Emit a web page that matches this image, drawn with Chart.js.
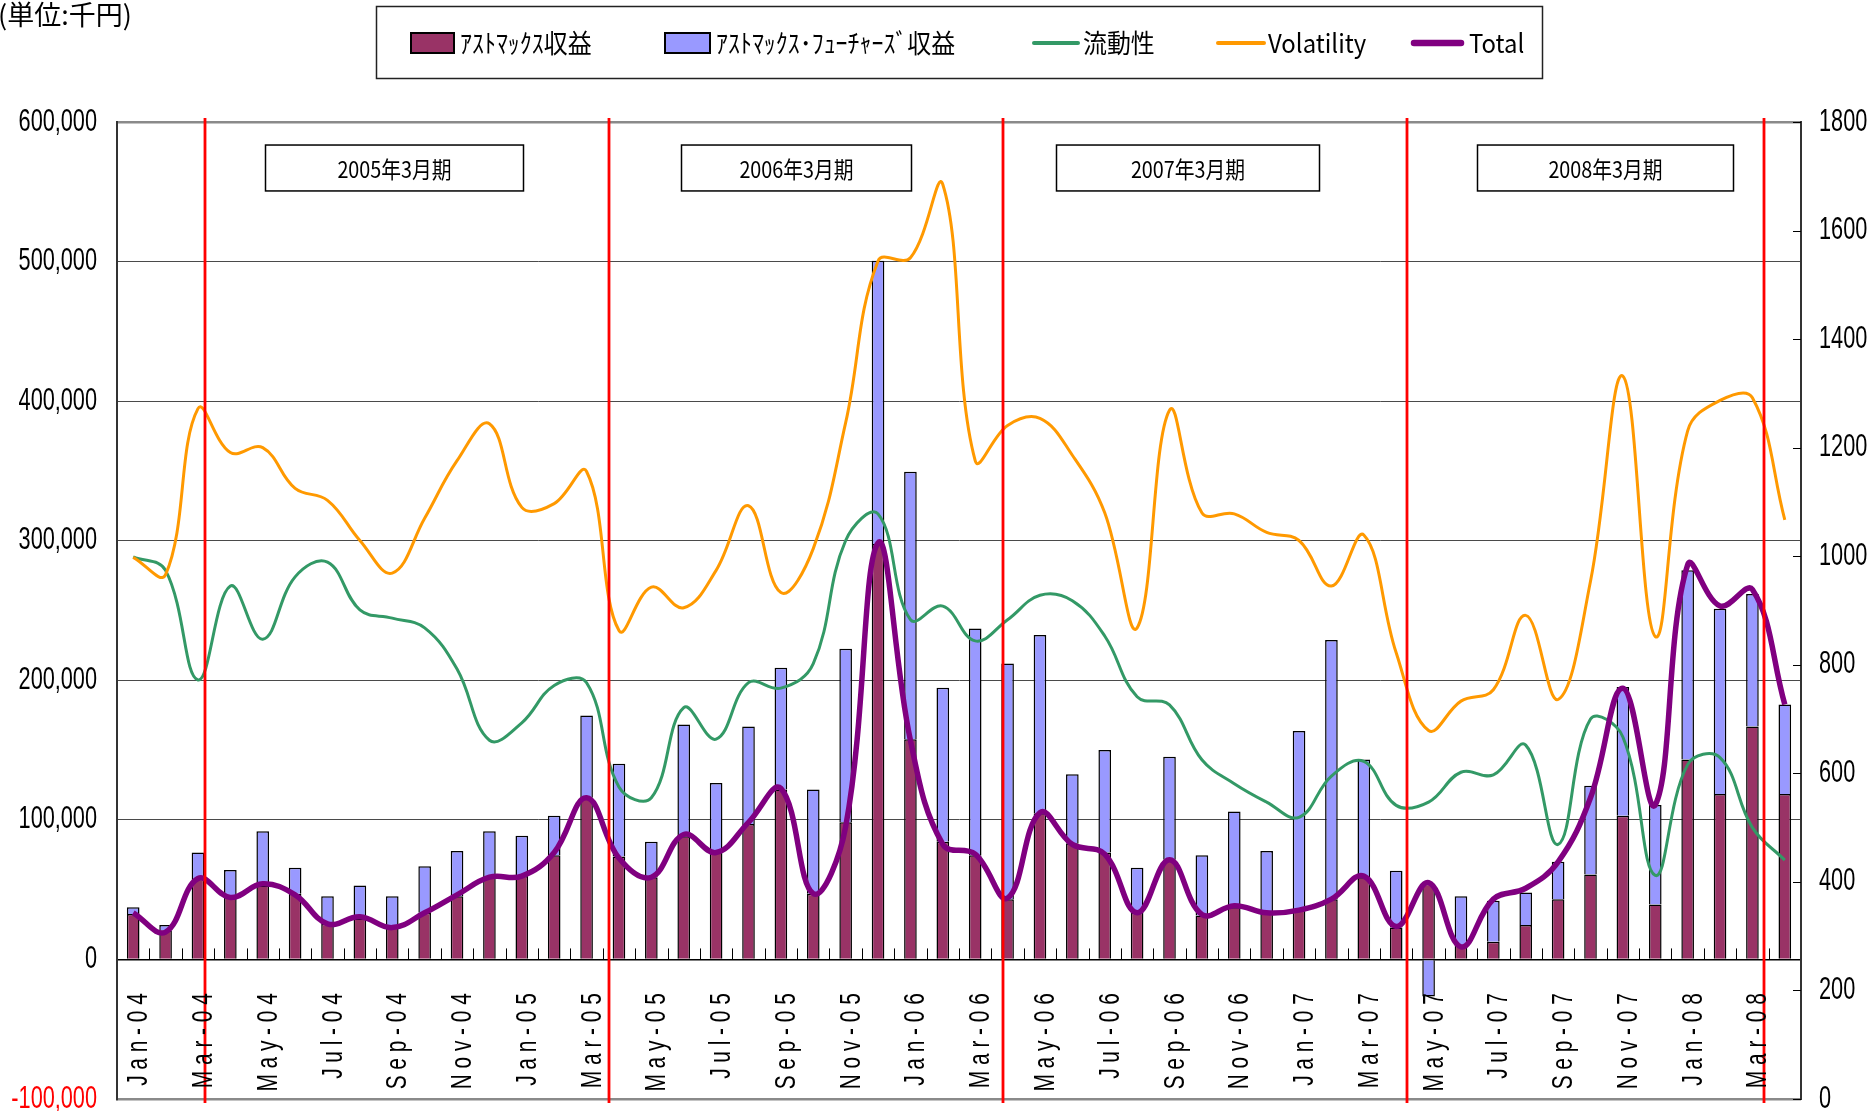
<!DOCTYPE html>
<html>
<head>
<meta charset="utf-8">
<script src="https://cdn.jsdelivr.net/npm/chart.js@4.4.1/dist/chart.umd.min.js"></script>
<style>
  html, body { margin: 0; padding: 0; background: #fff; overflow: hidden; }
</style>
</head>
<body>
<canvas id="revenue-chart" width="1873" height="1111"></canvas>
<script>
// monthly categories
const months = [
  'Jan-04', 'Feb-04', 'Mar-04', 'Apr-04', 'May-04', 'Jun-04', 'Jul-04', 'Aug-04', 'Sep-04', 'Oct-04', 'Nov-04', 'Dec-04',
  'Jan-05', 'Feb-05', 'Mar-05', 'Apr-05', 'May-05', 'Jun-05', 'Jul-05', 'Aug-05', 'Sep-05', 'Oct-05', 'Nov-05', 'Dec-05',
  'Jan-06', 'Feb-06', 'Mar-06', 'Apr-06', 'May-06', 'Jun-06', 'Jul-06', 'Aug-06', 'Sep-06', 'Oct-06', 'Nov-06', 'Dec-06',
  'Jan-07', 'Feb-07', 'Mar-07', 'Apr-07', 'May-07', 'Jun-07', 'Jul-07', 'Aug-07', 'Sep-07', 'Oct-07', 'Nov-07', 'Dec-07',
  'Jan-08', 'Feb-08', 'Mar-08', 'Apr-08'
];

// 単位: 千円 (left axis)
const astmaxRevenue = [
  32600, 20800, 57700, 44400, 53000, 47100, 25500, 29400, 22800, 33400, 45200, 58900,
  59700, 74600, 115800, 73800, 58900, 88300, 76600, 97000, 121700, 47100, 98200, 297600,
  157800, 84400, 74600, 43200, 104800, 83200, 76600, 33400, 71500, 31400, 37300, 33400,
  36100, 43200, 58900, 22800, 54200, 9800, 12600, 24700, 43200, 60900, 102900, 39300,
  143300, 118600, 166900, 118600
];
const futuresRevenue = [
  4700, 3900, 18900, 19600, 38900, 18500, 19700, 23600, 22400, 33300, 32500, 33000,
  29000, 28300, 58900, 66400, 25500, 80100, 49800, 69900, 87200, 74600, 124400, 203000,
  191600, 110300, 162500, 168800, 127600, 49500, 73400, 32200, 73800, 43200, 68700, 44300,
  127600, 185700, 84400, 40800, -26500, 35400, 29400, 23200, 26700, 63600, 92200, 71400,
  135500, 132700, 95000, 64000
];
const totalLine = [
  33400, 19600, 58000, 44400, 54200, 46300, 25500, 30600, 22800, 33400, 46300, 58900,
  59700, 76600, 115800, 72600, 58900, 89500, 76600, 98200, 122500, 47100, 95000, 298400,
  157000, 82400, 75400, 44000, 105200, 82400, 75400, 33400, 71500, 32200, 38500, 33400,
  35300, 43200, 59700, 23600, 55000, 9000, 43200, 51000, 69900, 115800, 194300, 110700,
  282700, 253200, 265000, 182600
];

// right axis
const liquidity = [
  999, 974, 772, 945, 847, 962, 989, 901, 886, 868, 792, 661,
  693, 762, 767, 575, 555, 721, 663, 767, 757, 802, 1029, 1078,
  883, 908, 844, 883, 928, 918, 853, 741, 726, 625, 581, 547,
  519, 595, 622, 541, 547, 602, 597, 652, 469, 700, 667, 412,
  616, 629, 500, 440
];
const volatility = [
  998, 966, 1272, 1191, 1200, 1125, 1103, 1029, 969, 1070, 1176, 1244,
  1090, 1097, 1156, 863, 943, 905, 974, 1093, 933, 1014, 1246, 1544,
  1550, 1685, 1176, 1241, 1254, 1186, 1080, 868, 1269, 1080, 1078, 1044,
  1029, 945, 1039, 822, 679, 733, 754, 891, 736, 954, 1332, 852,
  1231, 1287, 1292, 1067
];

// fiscal year marks (month index) and period captions
const fiscalBreaks = [2.23, 14.69, 26.85, 39.34, 50.36];
const periodLabels = ['2005年3月期', '2006年3月期', '2007年3月期', '2008年3月期'];
const periodStarts = [4.07, 16.92, 28.5, 41.51];
const periodEnds = [12.04, 24.02, 36.62, 49.41];

const NUM_FONT = '"Liberation Sans", Arial, sans-serif';
const JP_FONT = '"Noto Sans CJK JP", sans-serif';

function narrowText(ctx, text, x, y, align, sx) {
  ctx.save();
  ctx.translate(x, y);
  ctx.scale(sx, 1);
  ctx.textAlign = align;
  ctx.fillText(text, 0, 0);
  ctx.restore();
}

const decorations = {
  id: 'decorations',
  afterDatasetsDraw(chart) {
    const { ctx, chartArea: area, scales: { x, y } } = chart;
    ctx.save();

    // period caption boxes
    ctx.font = '23px ' + JP_FONT;
    ctx.textBaseline = 'middle';
    const top = y.getPixelForValue(583500);
    const bottom = y.getPixelForValue(550600);
    periodLabels.forEach((label, i) => {
      const l = Math.round(x.getPixelForValue(periodStarts[i])) + 0.5;
      const r = Math.round(x.getPixelForValue(periodEnds[i])) + 0.5;
      ctx.fillStyle = '#fff';
      ctx.fillRect(l, top, r - l, bottom - top);
      ctx.strokeStyle = '#000';
      ctx.lineWidth = 1.5;
      ctx.strokeRect(l, top, r - l, bottom - top);
      ctx.fillStyle = '#000';
      narrowText(ctx, label, (l + r) / 2, (top + bottom) / 2 + 1, 'center', 0.86);
    });

    // red fiscal year lines
    ctx.strokeStyle = '#ff0000';
    ctx.lineWidth = 2.8;
    fiscalBreaks.forEach((v) => {
      const px = Math.round(x.getPixelForValue(v));
      ctx.beginPath();
      ctx.moveTo(px, area.top - 4);
      ctx.lineTo(px, area.bottom + 4);
      ctx.stroke();
    });
    ctx.restore();
  },
  afterDraw(chart) {
    const { ctx, chartArea: area, scales: { x, y, y2 } } = chart;
    const zeroY = y.getPixelForValue(0);
    ctx.save();

    // small tick marks on the zero line
    ctx.strokeStyle = '#000';
    ctx.lineWidth = 1;
    for (let k = 1; k < months.length; k++) {
      const px = Math.round(x.getPixelForValue(k - 0.5)) + 0.5;
      ctx.beginPath();
      ctx.moveTo(px, zeroY);
      ctx.lineTo(px, zeroY - 11);
      ctx.stroke();
    }
    // right axis tick marks (inside)
    y2.ticks.forEach((t) => {
      const py = Math.round(y2.getPixelForValue(t.value)) + 0.5;
      ctx.beginPath();
      ctx.moveTo(area.right - 8, py);
      ctx.lineTo(area.right, py);
      ctx.stroke();
    });

    // axis labels
    ctx.font = '31px ' + NUM_FONT;
    ctx.textBaseline = 'middle';
    y.ticks.forEach((t) => {
      ctx.fillStyle = t.value < 0 ? '#ff0000' : '#000';
      narrowText(ctx, t.value.toLocaleString('en-US'), 97, y.getPixelForValue(t.value), 'right', 0.7);
    });
    ctx.fillStyle = '#000';
    y2.ticks.forEach((t) => {
      narrowText(ctx, String(t.value), 1819, y2.getPixelForValue(t.value), 'left', 0.7);
    });

    ctx.font = '29px ' + NUM_FONT;
    months.forEach((m, i) => {
      if (i % 2) return;
      ctx.save();
      ctx.translate(x.getPixelForValue(i) + 6, zeroY + 28);
      ctx.rotate(-Math.PI / 2);
      ctx.scale(0.72, 1);
      ctx.textAlign = 'right';
      ctx.textBaseline = 'middle';
      let text = m;
      if ('letterSpacing' in ctx) ctx.letterSpacing = '8px';
      else text = m.split('').join('\u2009');
      ctx.fillText(text, 0, 0);
      ctx.restore();
    });

    // unit caption
    ctx.font = '27px ' + JP_FONT;
    ctx.textAlign = 'left';
    ctx.textBaseline = 'middle';
    ctx.fillText('(単位:千円)', -2, 15);

    // legend
    const ds = chart.data.datasets;
    ctx.strokeStyle = '#222';
    ctx.lineWidth = 1.5;
    ctx.strokeRect(376.5, 6.5, 1166, 72);
    ctx.font = '26px ' + JP_FONT;
    const midY = 43;
    const swatch = (d, x0, x1) => {
      if (d.type === 'bar') {
        ctx.fillStyle = d.backgroundColor;
        ctx.fillRect(x0, midY - 10, x1 - x0, 20);
        ctx.strokeStyle = '#000';
        ctx.lineWidth = 2;
        ctx.strokeRect(x0, midY - 10, x1 - x0, 20);
      } else {
        ctx.strokeStyle = d.borderColor;
        ctx.lineWidth = d.borderWidth + 1;
        ctx.lineCap = 'round';
        ctx.beginPath();
        ctx.moveTo(x0, midY);
        ctx.lineTo(x1, midY);
        ctx.stroke();
      }
    };
    const items = [[0, 411, 454, 460], [1, 665, 710, 716], [2, 1034, 1078, 1083], [3, 1218, 1264, 1268], [4, 1414, 1461, 1469]];
    items.forEach(([idx, x0, x1, tx]) => {
      const d = ds[idx];
      swatch(d, x0, x1);
      ctx.fillStyle = '#000';
      narrowText(ctx, d.label, tx, midY, 'left', 0.92);
    });
    ctx.restore();
  }
};

new Chart(document.getElementById('revenue-chart'), {
  data: {
    labels: months,
    datasets: [
      {
        type: 'bar', label: 'ｱｽﾄﾏｯｸｽ収益', data: astmaxRevenue, stack: 'revenue',
        backgroundColor: '#993366', borderColor: '#000', borderWidth: 1.5,
        barPercentage: 0.39, categoryPercentage: 1, yAxisID: 'y', order: 5
      },
      {
        type: 'bar', label: 'ｱｽﾄﾏｯｸｽ･ﾌｭｰﾁｬｰｽﾞ収益', data: futuresRevenue, stack: 'revenue',
        backgroundColor: '#9999ff', borderColor: '#000', borderWidth: 1.5,
        barPercentage: 0.39, categoryPercentage: 1, yAxisID: 'y', order: 5
      },
      {
        type: 'line', label: '流動性', data: liquidity, yAxisID: 'y2',
        borderColor: '#339966', borderWidth: 3, pointRadius: 0, tension: 0.4, order: 3
      },
      {
        type: 'line', label: 'Volatility', data: volatility, yAxisID: 'y2',
        borderColor: '#ff9900', borderWidth: 3, pointRadius: 0, tension: 0.4, order: 2
      },
      {
        type: 'line', label: 'Total', data: totalLine, yAxisID: 'y',
        borderColor: '#800080', borderWidth: 5.5, pointRadius: 0, tension: 0.4, order: 1
      }
    ]
  },
  options: {
    responsive: false,
    animation: false,
    devicePixelRatio: 1,
    layout: { padding: { top: 122, bottom: 12, left: 0, right: 0 } },
    plugins: { legend: { display: false }, tooltip: { enabled: false } },
    scales: {
      x: { type: 'category', display: false },
      y: {
        position: 'left', min: -100000, max: 600000,
        ticks: { stepSize: 100000, display: false },
        grid: {
          drawTicks: false,
          color: (c) => c.tick.value === 0 ? '#000' : (c.tick.value === 600000 || c.tick.value === -100000 ? '#8a8a8a' : '#4a4a4a'),
          lineWidth: (c) => c.tick.value === 0 ? 1.5 : (c.tick.value === 600000 || c.tick.value === -100000 ? 2.5 : 1)
        },
        border: { color: '#333', width: 2 },
        afterFit: (s) => { s.width = 117; }
      },
      y2: {
        position: 'right', min: 0, max: 1800,
        ticks: { stepSize: 200, display: false },
        grid: { drawOnChartArea: false, drawTicks: false },
        border: { color: '#333', width: 2 },
        afterFit: (s) => { s.width = 72; }
      }
    }
  },
  plugins: [decorations]
});
</script>
</body>
</html>
